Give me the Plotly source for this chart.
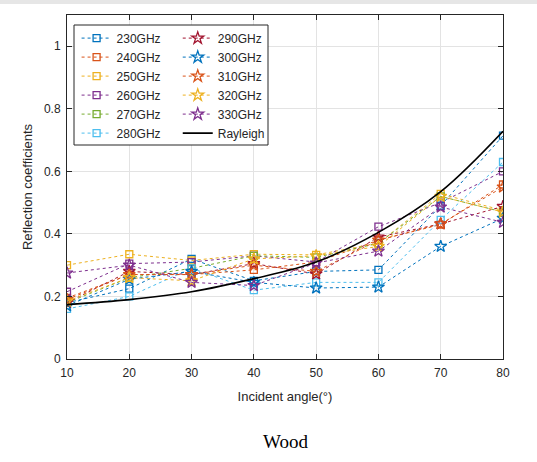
import plotly.graph_objects as go

angles = [10, 20, 30, 40, 50, 60, 70, 80]
freq_labels = ["230GHz", "240GHz", "250GHz", "260GHz", "270GHz", "280GHz",
               "290GHz", "300GHz", "310GHz", "320GHz", "330GHz"]
r230 = [0.180, 0.225, 0.320, 0.250, 0.280, 0.285, 0.490, 0.714]
r240 = [0.195, 0.270, 0.270, 0.285, 0.310, 0.380, 0.430, 0.558]
r250 = [0.300, 0.335, 0.315, 0.335, 0.333, 0.370, 0.528, 0.475]
r260 = [0.215, 0.305, 0.310, 0.330, 0.310, 0.423, 0.500, 0.600]
r270 = [0.180, 0.260, 0.290, 0.330, 0.325, 0.370, 0.520, 0.470]
r280 = [0.160, 0.200, 0.290, 0.220, 0.245, 0.245, 0.445, 0.630]
r290 = [0.180, 0.280, 0.270, 0.305, 0.272, 0.390, 0.432, 0.488]
r300 = [0.170, 0.255, 0.280, 0.245, 0.227, 0.230, 0.360, 0.450]
r310 = [0.190, 0.270, 0.270, 0.300, 0.280, 0.380, 0.432, 0.550]
r320 = [0.185, 0.260, 0.250, 0.320, 0.330, 0.360, 0.520, 0.470]
r330 = [0.275, 0.300, 0.245, 0.235, 0.307, 0.345, 0.486, 0.437]
rayleigh = [0.174, 0.190, 0.215, 0.257, 0.310, 0.405, 0.535, 0.728]

series = [r230, r240, r250, r260, r270, r280, r290, r300, r310, r320, r330]
colors = ["#0072BD", "#D95319", "#EDB120", "#7E2F8E", "#77AC30", "#4DBEEE",
          "#A2142F", "#0072BD", "#D95319", "#EDB120", "#7E2F8E"]
symbols = ["square-open"] * 6 + ["star-open"] * 5

fig = go.Figure()
for i, (lab, vals) in enumerate(zip(freq_labels, series)):
    fig.add_trace(go.Scatter(
        x=angles, y=vals, name=lab, mode="lines+markers",
        line=dict(color=colors[i], width=1, dash="dot"),
        marker=dict(symbol=symbols[i], size=7 if i < 6 else 9, color=colors[i],
                    line=dict(width=1.3, color=colors[i])),
        legend="legend" if i < 6 else "legend2",
    ))
fig.add_trace(go.Scatter(
    x=angles, y=rayleigh, name="Rayleigh", mode="lines",
    line=dict(color="black", width=1.6, shape="spline", smoothing=1.0),
    legend="legend2",
))

axis_common = dict(showline=True, linecolor="#262626", linewidth=1, mirror="allticks",
                   ticks="inside", ticklen=5, tickcolor="#262626",
                   showgrid=True, gridcolor="#e3e3e3", gridwidth=1, zeroline=False,
                   tickfont=dict(family="Liberation Sans, Arial", size=12, color="#262626"))

fig.update_layout(
    width=537, height=462,
    margin=dict(l=67, r=34, t=15, b=103),
    paper_bgcolor="white", plot_bgcolor="white",
    font=dict(family="Liberation Sans, Arial", size=12, color="#262626"),
    xaxis=dict(range=[10, 80], tickvals=angles, ticklabelstandoff=3, **axis_common,
               title=dict(text="Incident angle(°)", standoff=12,
                          font=dict(size=13, color="#262626"))),
    yaxis=dict(range=[0, 1.1], tickvals=[0, 0.2, 0.4, 0.6, 0.8, 1.0],
               ticktext=["0", "0.2", "0.4", "0.6", "0.8", "1"], ticklabelstandoff=3,
               **axis_common,
               title=dict(text="Reflection coefficients", standoff=8,
                          font=dict(size=13, color="#262626"))),
    legend=dict(x=0.022, y=0.975, xanchor="left", yanchor="top",
                bgcolor="rgba(0,0,0,0)", borderwidth=0,
                font=dict(size=12, color="#262626"), tracegroupgap=0),
    legend2=dict(x=0.254, y=0.975, xanchor="left", yanchor="top",
                 bgcolor="rgba(0,0,0,0)", borderwidth=0,
                 font=dict(size=12, color="#262626"), tracegroupgap=0),
    showlegend=True,
)

# legend frame
fig.add_shape(type="rect", xref="paper", yref="paper",
              x0=7 / 436, x1=201 / 436, y0=1 - 130 / 344, y1=1 - 10 / 344,
              line=dict(color="#262626", width=1), fillcolor="white", layer="above")
# top grey band of the screenshot
fig.add_shape(type="rect", xref="paper", yref="paper",
              x0=-67 / 436, x1=1 + 34 / 436, y0=1 + 11 / 344, y1=1 + 15 / 344,
              line=dict(width=0), fillcolor="#e6e6e6", layer="above")

fig.add_annotation(text="Wood", xref="paper", yref="paper", x=0.5, y=-0.24,
                   xanchor="center", yanchor="middle", showarrow=False,
                   font=dict(family="Liberation Serif, Times New Roman", size=19, color="black"))

fig.write_html("out.html")
